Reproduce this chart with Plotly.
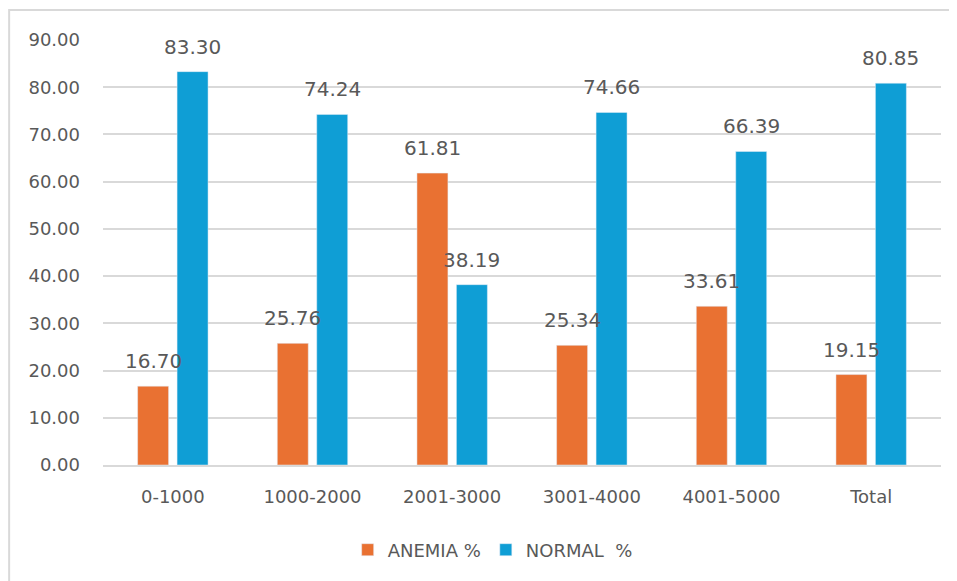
import plotly.graph_objects as go

categories = ["0-1000", "1000-2000", "2001-3000", "3001-4000", "4001-5000", "Total"]
anemia_pct = [16.70, 25.76, 61.81, 25.34, 33.61, 19.15]
normal_pct = [83.30, 74.24, 38.19, 74.66, 66.39, 80.85]
y_ticks = [0, 10, 20, 30, 40, 50, 60, 70, 80, 90]

ORANGE = "#E97132"
BLUE = "#0F9ED5"
GREY_TEXT = "#595959"
FONT = "DejaVu Sans, Arial, sans-serif"

fig = go.Figure()
fig.add_trace(go.Bar(x=categories, y=anemia_pct, name="ANEMIA %",
                     marker=dict(color=ORANGE), offsetgroup="a"))
fig.add_trace(go.Bar(x=categories, y=normal_pct, name="NORMAL  %",
                     marker=dict(color=BLUE), offsetgroup="n"))

# data labels sit well above bar tops, Excel style
slot = 0.2825
for i, cat in enumerate(categories):
    for val, dx in ((anemia_pct[i], -slot / 2), (normal_pct[i], slot / 2)):
        fig.add_annotation(x=i + dx, y=val, text=f"{val:.2f}", showarrow=False,
                           yshift=25, font=dict(size=20, color=GREY_TEXT, family=FONT))

# chart outline
fig.add_shape(type="rect", xref="paper", yref="paper",
              x0=-0.112, x1=1.2, y0=-1, y1=1.0706,
              line=dict(color="#D9D9D9", width=2), layer="below")

# page body has an 8px margin, so the figure is shrunk by that much
fig.update_layout(
    width=949, height=573,
    margin=dict(l=95, r=16, t=32, b=116),
    paper_bgcolor="white", plot_bgcolor="white",
    barmode="group", bargap=0.435, bargroupgap=0.215,
    font=dict(family=FONT, color=GREY_TEXT, size=18),
    showlegend=True,
    legend=dict(orientation="h", x=0.465, xanchor="center", y=-0.2, yanchor="middle",
                font=dict(size=18, color=GREY_TEXT), itemwidth=30, traceorder="normal"),
    xaxis=dict(showgrid=False, showline=True, linecolor="#D9D9D9", linewidth=2,
               ticks="", tickfont=dict(size=18, color=GREY_TEXT), ticklabelstandoff=14),
    yaxis=dict(range=[0, 90], tickvals=y_ticks, tickformat=".2f",
               showgrid=True, gridcolor="#D9D9D9", gridwidth=2, zeroline=False,
               showline=False, ticks="", tickfont=dict(size=18, color=GREY_TEXT),
               ticklabelstandoff=22),
)

fig.write_html("out.html")
